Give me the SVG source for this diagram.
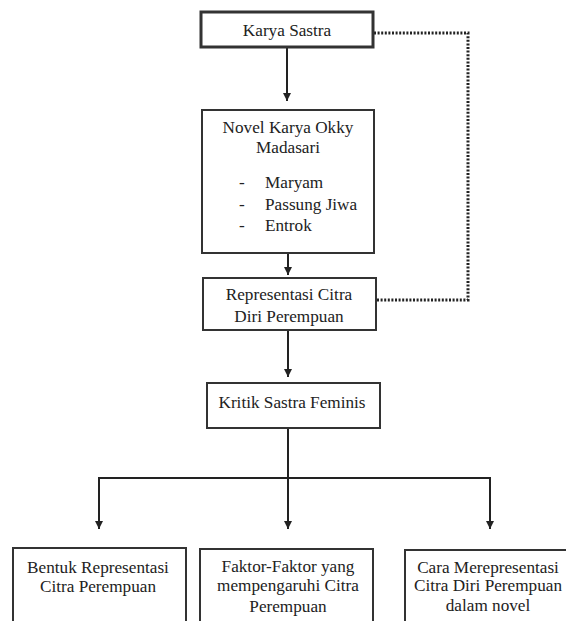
<svg xmlns="http://www.w3.org/2000/svg" width="566" height="621" viewBox="0 0 566 621">
<defs>
<style>
.box{fill:#fff;stroke:#333;stroke-width:2}
text{font-family:'Liberation Serif','Times New Roman','DejaVu Serif',serif;font-size:17.2px;fill:#222}
.t{text-anchor:middle}
.c{fill:none;stroke:#222;stroke-width:2}
.d{fill:none;stroke:#222;stroke-width:3;stroke-dasharray:2 1.6}
</style>
<marker id="ah" viewBox="0 0 10 10" refX="10" refY="5" markerWidth="4" markerHeight="4" orient="auto" markerUnits="strokeWidth">
<path d="M0,0 L10,5 L0,10 z" fill="#222"/>
</marker>
</defs>
<rect width="566" height="621" fill="#fff"/>
<g id="connectors">
<path class="c" d="M287,48 V101" marker-end="url(#ah)"/>
<path class="c" d="M288,253 V275" marker-end="url(#ah)"/>
<path class="c" d="M288,330 V377" marker-end="url(#ah)"/>
<path class="c" d="M288,428 V478"/>
<path class="c" d="M99,478 H490"/>
<path class="c" d="M99,477 V529" marker-end="url(#ah)"/>
<path class="c" d="M288,477 V529" marker-end="url(#ah)"/>
<path class="c" d="M490,477 V529" marker-end="url(#ah)"/>
<path class="d" d="M374,33 H468 V300 H377"/>
</g>
<g id="karya-sastra">
<rect class="box" x="201" y="12" width="172" height="35" style="stroke-width:3"/>
<text class="t" x="287" y="36">Karya Sastra</text>
</g>
<g id="novel">
<rect class="box" x="202" y="110" width="172" height="143"/>
<text class="t" x="288" y="133">Novel Karya Okky</text>
<text class="t" x="288" y="153">Madasari</text>
<text x="239" y="188">-</text>
<text x="265" y="188">Maryam</text>
<text x="239" y="210">-</text>
<text x="265" y="210">Passung Jiwa</text>
<text x="239" y="231">-</text>
<text x="265" y="231">Entrok</text>
</g>
<g id="representasi">
<rect class="box" x="203" y="278" width="173" height="52"/>
<text class="t" x="289" y="300">Representasi Citra</text>
<text class="t" x="289" y="322">Diri Perempuan</text>
</g>
<g id="kritik">
<rect class="box" x="207" y="383" width="173" height="45"/>
<text class="t" x="292" y="408">Kritik Sastra Feminis</text>
</g>
<g id="bentuk">
<rect class="box" x="13" y="548" width="173" height="80"/>
<text class="t" x="98" y="573">Bentuk Representasi</text>
<text class="t" x="98" y="592">Citra Perempuan</text>
</g>
<g id="faktor">
<rect class="box" x="200" y="549" width="173" height="80"/>
<text class="t" x="288" y="572">Faktor-Faktor yang</text>
<text class="t" x="288" y="591">mempengaruhi Citra</text>
<text class="t" x="288" y="612">Perempuan</text>
</g>
<g id="cara">
<rect class="box" x="405" y="550" width="170" height="80"/>
<text class="t" x="488" y="573">Cara Merepresentasi</text>
<text class="t" x="488" y="591">Citra Diri Perempuan</text>
<text class="t" x="488" y="611">dalam novel</text>
</g>
</svg>
